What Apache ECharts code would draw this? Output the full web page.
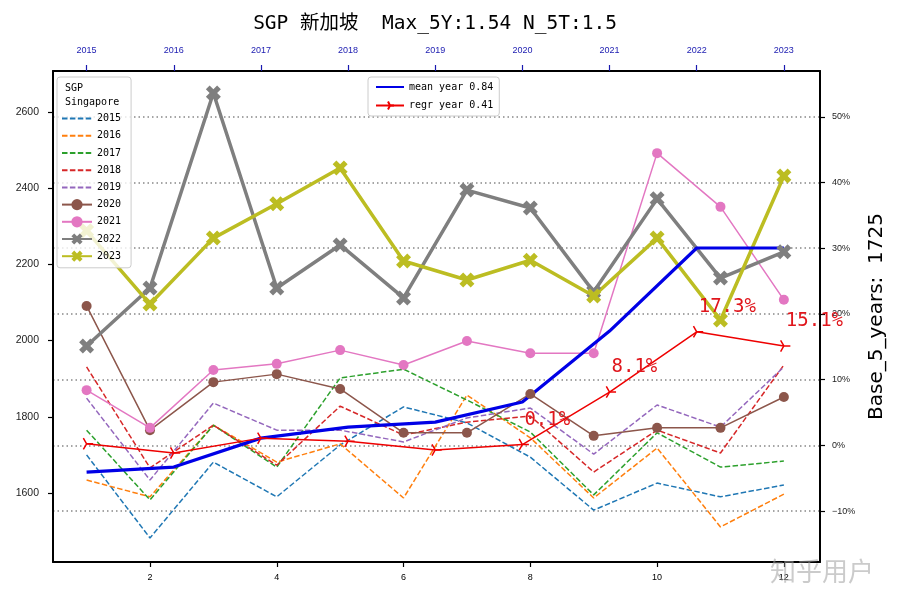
<!DOCTYPE html>
<html><head><meta charset="utf-8">
<script src="https://cdn.jsdelivr.net/npm/echarts@6/dist/echarts.min.js"></script>
<style>html,body{margin:0;padding:0;background:#fff}#c{width:900px;height:600px}</style>
</head><body><div id="c"></div>
<script>
// ---- data ----
const months = [1,2,3,4,5,6,7,8,9,10,11,12];
const yearNames = ['2015','2016','2017','2018','2019','2020','2021','2022','2023'];
const summaryYears = [2015,2016,2017,2018,2019,2020,2021,2022,2023];
const v2015 = [1700,1482,1681,1590,1726,1826,1784,1694,1555,1626,1590,1621];
const v2016 = [1634,1590,1778,1681,1729,1587,1857,1745,1587,1718,1511,1597];
const v2017 = [1765,1582,1778,1668,1902,1925,1844,1760,1595,1758,1668,1684];
const v2018 = [1931,1666,1778,1673,1828,1752,1786,1802,1655,1765,1705,1936];
const v2019 = [1849,1634,1836,1765,1765,1734,1797,1823,1702,1831,1773,1931];
const v2020 = [2091,1765,1891,1912,1873,1758,1758,1860,1750,1771,1771,1852];
const v2021 = [1870,1771,1923,1939,1975,1936,1999,1967,1967,2492,2351,2107];
const v2022 = [1986,2138,2650,2138,2251,2112,2395,2348,2128,2372,2164,2233];
const v2023 = [2288,2096,2269,2359,2453,2209,2159,2211,2117,2269,2054,2432];
const meanYear = [1655,1668,1744,1773,1786,1839,2025,2243,2243];
const regrYear = [1729,1705,1744,1736,1713,1727,1865,2023,1986];
const labelledRegrFrom = 5; // percentage labels on 2020..2023
const base = 1725;
const bottomTicks = [2,4,6,8,10,12];
const leftTicks = [1600,1800,2000,2200,2400,2600];
const pctTicks = [-10,0,10,20,30,40,50];
const titleText = 'SGP 新加坡  Max_5Y:1.54 N_5T:1.5';
const legendTitle = 'SGP\nSingapore';
const meanName = 'mean year 0.84';
const regrName = 'regr year 0.41';
const axisName = 'Base_5_years:  1725';

// ---- styling ----
const MONO = "'DejaVu Sans Mono','Noto Sans CJK SC',monospace";
const SANS = "'Liberation Sans',Arial,sans-serif";
const X_PATH = 'path://M3,0L4,1L3,2L4,3L3,4L2,3L1,4L0,3L1,2L0,1L1,0L2,1Z';
const TRI_PATH = 'path://M5,5L10,5M5,5L2.5,0.67M5,5L2.5,9.33M0,5L0,5';
const yMin = 1418.9, yMax = 2707.6, xMin = 0.47, xMax = 12.57;
const topMin = 2015 + (xMin - 1) / 1.375, topMax = 2015 + (xMax - 1) / 1.375;

const yearData = [v2015,v2016,v2017,v2018,v2019,v2020,v2021,v2022,v2023];
const colors = ['#1f77b4','#ff7f0e','#2ca02c','#d62728','#9467bd','#8c564b','#e377c2','#7f7f7f','#bcbd22'];

const series = yearData.map((vals, i) => {
  const s = {
    name: yearNames[i], type: 'line', xAxisIndex: 0, yAxisIndex: 0,
    data: vals.map((v, k) => [months[k], v]),
    color: colors[i], silent: true,
  };
  if (i < 5) {
    Object.assign(s, { symbol: 'none', lineStyle: { width: 1.5, type: [5.5, 2.4], color: colors[i] } });
  } else if (i < 7) {
    Object.assign(s, { symbol: 'circle', symbolSize: 10, lineStyle: { width: 1.5, color: colors[i] },
      itemStyle: { color: colors[i] } });
  } else {
    Object.assign(s, { symbol: X_PATH, symbolSize: 15, lineStyle: { width: 3.5, color: colors[i] },
      itemStyle: { color: colors[i] } });
  }
  return s;
});

series.push({
  name: meanName, type: 'line', xAxisIndex: 1, yAxisIndex: 0, symbol: 'none', silent: true,
  color: '#0000e6', lineStyle: { width: 3.2, color: '#0000e6' },
  data: summaryYears.map((y, k) => [y, meanYear[k]])
});
series.push({
  name: regrName, type: 'line', xAxisIndex: 1, yAxisIndex: 0, silent: true,
  symbol: TRI_PATH, symbolSize: 13, symbolKeepAspect: true,
  color: '#ee0000', lineStyle: { width: 1.5, color: '#ee0000' },
  itemStyle: { color: 'none', borderColor: '#ee0000', borderWidth: 1.5 },
  data: summaryYears.map((y, k) => {
    const d = { value: [y, regrYear[k]] };
    if (k >= labelledRegrFrom) {
      d.label = { show: true, position: 'top', align: 'left', offset: [2, -2],
        formatter: () => ((regrYear[k] / base - 1) * 100).toFixed(1) + '%',
        color: '#e0161c', fontSize: 19, fontFamily: MONO };
    }
    return d;
  })
});

const frameLine = { show: true, onZero: false, lineStyle: { color: '#000', width: 2 } };
const hideSym = { opacity: 0 };

const option = {
  animation: false,
  backgroundColor: '#fff',
  grid: { left: 53, right: 80, top: 71, bottom: 38, containLabel: false },
  xAxis: [
    { type: 'value', position: 'bottom', min: xMin, max: xMax,
      axisLine: frameLine,
      axisTick: { show: true, length: 5, lineStyle: { color: '#000', width: 1.2 }, customValues: bottomTicks },
      axisLabel: { customValues: bottomTicks, fontSize: 9, color: '#000', margin: 11, fontFamily: SANS },
      splitLine: { show: false } },
    { type: 'value', position: 'top', min: topMin, max: topMax,
      axisLine: frameLine,
      axisTick: { show: true, length: 6, lineStyle: { color: '#1a1ab0', width: 1.2 }, customValues: summaryYears },
      axisLabel: { customValues: summaryYears, fontSize: 9, color: '#1a1ab0', margin: 16, fontFamily: SANS,
        formatter: v => String(Math.round(v)) },
      splitLine: { show: false } }
  ],
  yAxis: [
    { type: 'value', position: 'left', min: yMin, max: yMax,
      axisLine: frameLine,
      axisTick: { show: true, length: 5, lineStyle: { color: '#000', width: 1.2 }, customValues: leftTicks },
      axisLabel: { customValues: leftTicks, fontSize: 10.5, color: '#222', margin: 14, fontFamily: SANS,
        formatter: v => String(Math.round(v)) },
      splitLine: { show: false } },
    { type: 'value', position: 'right', min: yMin, max: yMax,
      axisLine: frameLine,
      axisTick: { show: true, length: 5, lineStyle: { color: '#000', width: 1.2 },
        customValues: pctTicks.map(p => base * (1 + p / 100)) },
      axisLabel: { customValues: pctTicks.map(p => base * (1 + p / 100)), fontSize: 9, color: '#222', margin: 12,
        fontFamily: SANS,
        formatter: v => { const p = Math.round((v / base - 1) * 100); return (p < 0 ? '−' + (-p) : p) + '%'; } },
      splitLine: { show: true, lineStyle: { color: '#888', width: 1.5, type: [1.5, 3] } },
      name: axisName, nameLocation: 'middle', nameRotate: 90, nameGap: 47,
      nameTextStyle: { fontSize: 20, color: '#000', fontFamily: "'DejaVu Sans',sans-serif" } }
  ],
  legend: [
    { data: yearNames.map((n, i) => i < 5 ? { name: n, itemStyle: hideSym } : { name: n }),
      orient: 'vertical', left: 57, top: 77,
      padding: [36, 10, 6, 4], itemWidth: 30, itemHeight: 14, itemGap: 6,
      borderColor: '#cccccc', borderWidth: 1, borderRadius: 3, backgroundColor: 'rgba(255,255,255,0.8)',
      textStyle: { fontSize: 10, color: '#000', fontFamily: MONO }, selectedMode: false },
    { data: [{ name: meanName, itemStyle: hideSym }, { name: regrName }],
      orient: 'vertical', left: 368, top: 77,
      padding: [5, 6, 4, 7], itemWidth: 28, itemHeight: 10, itemGap: 7,
      borderColor: '#cccccc', borderWidth: 1, borderRadius: 3, backgroundColor: 'rgba(255,255,255,0.8)',
      textStyle: { fontSize: 10, color: '#000', fontFamily: MONO }, selectedMode: false }
  ],
  graphic: [
    { type: 'text', x: 435, y: 24, z: 100,
      style: { text: titleText, align: 'center', verticalAlign: 'middle', fontSize: 19.5,
        fontFamily: MONO, fill: '#000' } },
    { type: 'text', x: 65, y: 81, z: 100,
      style: { text: legendTitle, align: 'left', verticalAlign: 'top', fontSize: 10, lineHeight: 14,
        fontFamily: MONO, fill: '#000' } },
    { type: 'text', x: 822, y: 571, z: 100,
      style: { text: '知乎用户', align: 'center', verticalAlign: 'middle', fontSize: 26,
        fontFamily: "'Noto Sans CJK SC'", fill: 'rgba(160,160,160,0.55)' } }
  ],
  series: series
};

const chart = echarts.init(document.getElementById('c'), null, { renderer: 'canvas' });
chart.setOption(option);
</script>
</body></html>
